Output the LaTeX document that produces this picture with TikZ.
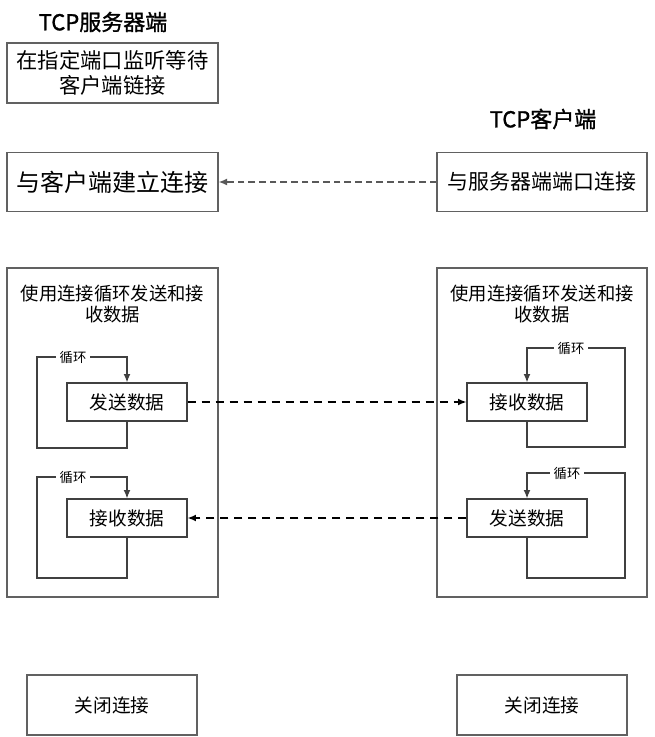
\documentclass[tikz,border=0pt]{standalone}
\usepackage{fontspec}
\setmainfont{Noto Sans CJK SC}
\newfontfamily\titlefont[FakeBold=1.2]{Noto Sans CJK SC}
\usetikzlibrary{arrows.meta}
\definecolor{boxgray}{rgb}{0.38,0.38,0.38}

\begin{document}
\begin{tikzpicture}[
  x=0.75pt, y=-0.75pt,
  >={Latex[length=2.2mm, width=1.8mm]},
  every node/.style={inner sep=0pt},
  bigbox/.style={rectangle, draw=boxgray, line width=1pt, minimum width=158.25pt},
  databox/.style={rectangle, draw=black!75, line width=0.9pt, minimum width=90pt, minimum height=28.5pt, font=\fontsize{14}{16}\selectfont},
  loopline/.style={->, draw=black!75, line width=0.9pt},
  looplabel/.style={fill=white, inner xsep=3pt, font=\fontsize{10}{11}\selectfont},
  title/.style={font=\titlefont\fontsize{16.5}{19}\selectfont},
  linkgray/.style={->, draw=black!65, line width=1pt, dash pattern=on 5pt off 3pt},
  linkdark/.style={->, draw=black, line width=1pt, dash pattern=on 6pt off 4.5pt},
]
\useasboundingbox (0,0) rectangle (654,737);

% ---- titles ----
\node[title] (tserver) at (103,22)  {TCP服务器端};
\node[title] (tclient) at (543,119) {TCP客户端};

% ---- setup boxes ----
\node[bigbox, minimum height=45pt, align=center, font=\fontsize{16}{19}\selectfont]
  (listen) at (112.5,73) {在指定端口监听等待\\客户端链接};
\node[bigbox, minimum height=44.25pt, font=\fontsize{18}{21}\selectfont]
  (accept) at (112.5,182) {与客户端建立连接};
\node[bigbox, minimum height=44.25pt, minimum width=157.5pt, font=\fontsize{15.75}{18}\selectfont]
  (connect) at (542,182) {与服务器端端口连接};

% ---- loop frames ----
\node[bigbox, minimum height=246.75pt] (sframe) at (112.5,432.5) {};
\node[bigbox, minimum height=246.75pt, minimum width=157.5pt] (cframe) at (542,432.5) {};
\node[align=center, anchor=north, font=\fontsize{13.75}{15.75}\selectfont]
  (stext) at (112.5,285) {使用连接循环发送和接\\收数据};
\node[align=center, anchor=north, font=\fontsize{13.75}{15.75}\selectfont]
  (ctext) at (542,285) {使用连接循环发送和接\\收数据};

% ---- data boxes ----
\node[databox] (ssend) at (127,402) {发送数据};
\node[databox] (srecv) at (127,518) {接收数据};
\node[databox] (crecv) at (527,402) {接收数据};
\node[databox] (csend) at (527,518) {发送数据};

% ---- loop corners ----
\coordinate (ssendlo) at (37,448);
\coordinate (ssendhi) at (37,357);
\coordinate (srecvlo) at (37,578);
\coordinate (srecvhi) at (37,477);
\coordinate (crecvlo) at (625,447);
\coordinate (crecvhi) at (625,348);
\coordinate (csendlo) at (625,578);
\coordinate (csendhi) at (625,473);

% ---- loops ----
\draw[loopline] (ssend.south) |- (ssendlo) |- (ssend.north |- ssendhi) -- (ssend.north);
\draw[loopline] (srecv.south) |- (srecvlo) |- (srecv.north |- srecvhi) -- (srecv.north);
\draw[loopline] (crecv.south) |- (crecvlo) |- (crecv.north |- crecvhi) -- (crecv.north);
\draw[loopline] (csend.south) |- (csendlo) |- (csend.north |- csendhi) -- (csend.north);

\node[looplabel] (lssend) at (73,357) {循环};
\node[looplabel] (lsrecv) at (73,477) {循环};
\node[looplabel] (lcrecv) at (571,348) {循环};
\node[looplabel] (lcsend) at (567,473) {循环};

% ---- links between the two sides ----
\draw[linkgray] (connect) -- (accept);
\draw[linkdark] (ssend) -- (crecv);
\draw[linkdark] (csend) -- (srecv);

% ---- close boxes ----
\node[bigbox, minimum width=127.5pt, minimum height=45pt, font=\fontsize{14}{16}\selectfont]
  (sclose) at (112,705) {关闭连接};
\node[bigbox, minimum width=127.5pt, minimum height=45pt, font=\fontsize{14}{16}\selectfont]
  (cclose) at (542,705) {关闭连接};

\end{tikzpicture}
\end{document}
